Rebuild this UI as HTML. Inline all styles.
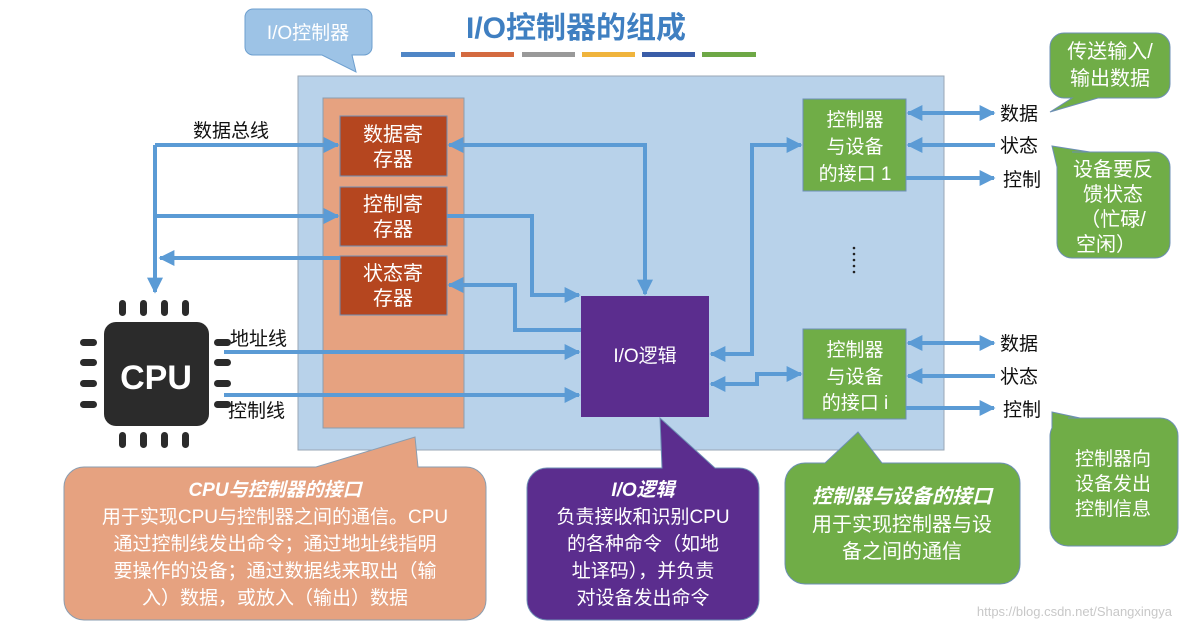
<!DOCTYPE html>
<html><head><meta charset="utf-8"><style>
html,body{margin:0;padding:0;background:#fff;}
svg{display:block;font-family:"Liberation Sans","Noto Sans CJK SC",sans-serif;}
</style></head><body>
<svg width="1183" height="630" viewBox="0 0 1183 630" xmlns="http://www.w3.org/2000/svg">
<defs>
<marker id="a" viewBox="0 0 10 10" refX="9" refY="5" markerWidth="4" markerHeight="4" orient="auto-start-reverse"><path d="M0,0 L10,5 L0,10 z" fill="#5b9bd5"/></marker>
</defs>
<rect width="1183" height="630" fill="#fff"/>
<text x="576" y="38" font-size="30" font-weight="bold" fill="#3f7fc1" text-anchor="middle">I/O控制器的组成</text>
<rect x="401" y="52" width="54" height="5" fill="#4f86c6"/>
<rect x="461" y="52" width="53" height="5" fill="#d46a3f"/>
<rect x="522" y="52" width="53" height="5" fill="#999"/>
<rect x="582" y="52" width="53" height="5" fill="#f0b43c"/>
<rect x="642" y="52" width="53" height="5" fill="#3a5da8"/>
<rect x="702" y="52" width="54" height="5" fill="#6ea846"/>
<path d="M253,9 H364 a8,8 0 0 1 8,8 V47 a8,8 0 0 1 -8,8 H352 L356,72 L322,55 H253 a8,8 0 0 1 -8,-8 V17 a8,8 0 0 1 8,-8z" fill="#9dc3e6" stroke="#6d9fcf"/>
<text x="308" y="39" font-size="19" fill="#fff" text-anchor="middle">I/O控制器</text>
<rect x="298" y="76" width="646" height="374" fill="#b8d2ea" stroke="#9aa7b5"/>
<rect x="323" y="98" width="141" height="330" fill="#e6a280" stroke="#8a9db0"/>
<g fill="#b5461f" stroke="#6d8fb5">
<rect x="340" y="116" width="107" height="60"/>
<rect x="340" y="187" width="107" height="59"/>
<rect x="340" y="256" width="107" height="59"/>
</g>
<g font-size="20" fill="#fff" text-anchor="middle">
<text x="393" y="141">数据寄</text><text x="393" y="166">存器</text>
<text x="393" y="211">控制寄</text><text x="393" y="236">存器</text>
<text x="393" y="280">状态寄</text><text x="393" y="305">存器</text>
</g>
<rect x="581" y="296" width="128" height="121" fill="#5b2d8e"/>
<text x="645" y="362" font-size="19" fill="#fff" text-anchor="middle">I/O逻辑</text>
<rect x="803" y="99" width="103" height="92" fill="#70ad47" stroke="#6d8fb5"/>
<rect x="803" y="329" width="103" height="90" fill="#70ad47" stroke="#6d8fb5"/>
<g font-size="19" fill="#fff" text-anchor="middle">
<text x="855" y="126">控制器</text><text x="855" y="153">与设备</text><text x="855" y="180">的接口 1</text>
<text x="855" y="356">控制器</text><text x="855" y="383">与设备</text><text x="855" y="409">的接口 i</text>
</g>
<g fill="#222"><circle cx="854" cy="248" r="1.3"/><circle cx="854" cy="254" r="1.3"/><circle cx="854" cy="260" r="1.3"/><circle cx="854" cy="266" r="1.3"/><circle cx="854" cy="272" r="1.3"/></g>
<g stroke="#5b9bd5" stroke-width="4" fill="none">
<polyline points="155,145 155,292" marker-end="url(#a)"/>
<polyline points="155,145 338,145" marker-end="url(#a)"/>
<polyline points="155,216 338,216" marker-end="url(#a)"/>
<polyline points="340,258 160,258" marker-end="url(#a)"/>
<polyline points="224,352 579,352" marker-end="url(#a)"/>
<polyline points="224,395 579,395" marker-end="url(#a)"/>
<polyline points="449,145 645,145 645,294" marker-start="url(#a)" marker-end="url(#a)"/>
<polyline points="447,216 532,216 532,295 579,295" marker-end="url(#a)"/>
<polyline points="449,285 515,285 515,330 581,330" marker-start="url(#a)"/>
<polyline points="711,354 752,354 752,145 801,145" marker-start="url(#a)" marker-end="url(#a)"/>
<polyline points="711,384 757,384 757,374 801,374" marker-start="url(#a)" marker-end="url(#a)"/>
<polyline points="908,113 994,113" marker-start="url(#a)" marker-end="url(#a)"/>
<polyline points="995,145 908,145" marker-end="url(#a)"/>
<polyline points="906,178 994,178" marker-end="url(#a)"/>
<polyline points="908,343 994,343" marker-start="url(#a)" marker-end="url(#a)"/>
<polyline points="995,376 908,376" marker-end="url(#a)"/>
<polyline points="906,408 994,408" marker-end="url(#a)"/>
</g>
<g font-size="19" fill="#111">
<text x="193" y="137">数据总线</text>
<text x="230" y="345">地址线</text>
<text x="228" y="417">控制线</text>
<text x="1000" y="120">数据</text><text x="1000" y="152">状态</text><text x="1003" y="186">控制</text>
<text x="1000" y="350">数据</text><text x="1000" y="383">状态</text><text x="1003" y="416">控制</text>
</g>
<g fill="#2b2b2b">
<rect x="104" y="322" width="105" height="104" rx="12"/>
<rect x="119" y="300" width="7" height="16" rx="3.5"/><rect x="140" y="300" width="7" height="16" rx="3.5"/><rect x="161" y="300" width="7" height="16" rx="3.5"/><rect x="182" y="300" width="7" height="16" rx="3.5"/>
<rect x="119" y="432" width="7" height="16" rx="3.5"/><rect x="140" y="432" width="7" height="16" rx="3.5"/><rect x="161" y="432" width="7" height="16" rx="3.5"/><rect x="182" y="432" width="7" height="16" rx="3.5"/>
<rect x="80" y="339" width="17" height="7" rx="3.5"/><rect x="80" y="359" width="17" height="7" rx="3.5"/><rect x="80" y="380" width="17" height="7" rx="3.5"/><rect x="80" y="401" width="17" height="7" rx="3.5"/>
<rect x="214" y="339" width="17" height="7" rx="3.5"/><rect x="214" y="359" width="17" height="7" rx="3.5"/><rect x="214" y="380" width="17" height="7" rx="3.5"/><rect x="214" y="401" width="17" height="7" rx="3.5"/>
</g>
<text x="156" y="389" font-size="34" font-weight="bold" fill="#fff" text-anchor="middle">CPU</text>
<path d="M84,467 H316 L415,437 L418,467 H466 a20,20 0 0 1 20,20 V600 a20,20 0 0 1 -20,20 H84 a20,20 0 0 1 -20,-20 V487 a20,20 0 0 1 20,-20z" fill="#e6a280" stroke="#8a9db0"/>
<g font-size="19" fill="#fff" text-anchor="middle">
<text x="275" y="496" font-weight="bold" font-style="italic">CPU与控制器的接口</text>
<text x="275" y="523">用于实现CPU与控制器之间的通信。CPU</text>
<text x="275" y="550">通过控制线发出命令；通过地址线指明</text>
<text x="275" y="577">要操作的设备；通过数据线来取出（输</text>
<text x="275" y="604">入）数据，或放入（输出）数据</text>
</g>
<path d="M547,468 H662 L660,418 L715,468 H739 a20,20 0 0 1 20,20 V600 a20,20 0 0 1 -20,20 H547 a20,20 0 0 1 -20,-20 V488 a20,20 0 0 1 20,-20z" fill="#5b2d8e" stroke="#6d8fb5"/>
<g font-size="19" fill="#fff" text-anchor="middle">
<text x="643" y="496" font-weight="bold" font-style="italic">I/O逻辑</text>
<text x="643" y="523">负责接收和识别CPU</text>
<text x="643" y="550">的各种命令（如地</text>
<text x="643" y="577">址译码），并负责</text>
<text x="643" y="604">对设备发出命令</text>
</g>
<path d="M805,463 H825 L858,432 L882,463 H1000 a20,20 0 0 1 20,20 V564 a20,20 0 0 1 -20,20 H805 a20,20 0 0 1 -20,-20 V483 a20,20 0 0 1 20,-20z" fill="#70ad47" stroke="#6d8fb5"/>
<g font-size="20" fill="#fff" text-anchor="middle">
<text x="902" y="503" font-weight="bold" font-style="italic">控制器与设备的接口</text>
<text x="902" y="531">用于实现控制器与设</text>
<text x="902" y="558">备之间的通信</text>
</g>
<path d="M1064,33 H1156 a14,14 0 0 1 14,14 V84 a14,14 0 0 1 -14,14 H1098 L1050,112 L1072,98 H1064 a14,14 0 0 1 -14,-14 V47 a14,14 0 0 1 14,-14z" fill="#70ad47" stroke="#6d8fb5"/>
<g font-size="20" fill="#fff" text-anchor="middle"><text x="1110" y="58">传送输入/</text><text x="1110" y="85">输出数据</text></g>
<path d="M1072,152 H1155 a15,15 0 0 1 15,15 V243 a15,15 0 0 1 -15,15 H1072 a15,15 0 0 1 -15,-15 V167 L1052,146 L1090,152z" fill="#70ad47" stroke="#6d8fb5"/>
<g font-size="20" fill="#fff" text-anchor="middle"><text x="1113" y="176">设备要反</text><text x="1113" y="201">馈状态</text><text x="1113" y="226">（忙碌/</text><text x="1106" y="251">空闲）</text></g>
<path d="M1068,418 H1160 a18,18 0 0 1 18,18 V528 a18,18 0 0 1 -18,18 H1068 a18,18 0 0 1 -18,-18 V436 a18,18 0 0 1 2,-8 L1052,412 L1080,418z" fill="#70ad47" stroke="#6d8fb5"/>
<g font-size="19" fill="#fff" text-anchor="middle"><text x="1113" y="465">控制器向</text><text x="1113" y="490">设备发出</text><text x="1113" y="515">控制信息</text></g>
<text x="1172" y="616" font-size="13" fill="#c8c8c8" text-anchor="end">https://blog.csdn.net/Shangxingya</text>
</svg>
</body></html>
